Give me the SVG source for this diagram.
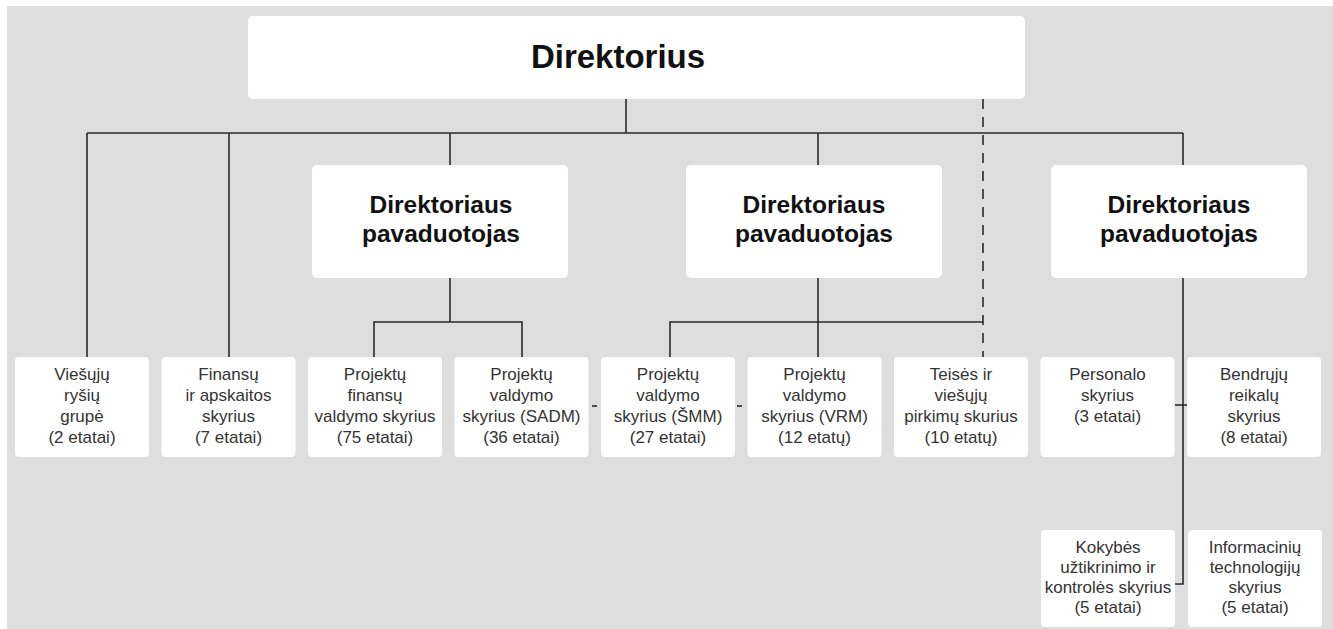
<svg xmlns="http://www.w3.org/2000/svg" width="1333" height="629" viewBox="0 0 1333 629">
<style>
.box{fill:#ffffff;}
.ln{stroke:#2a2a2a;stroke-width:1.6;fill:none;}
.dash{stroke:#2a2a2a;stroke-width:1.6;fill:none;stroke-dasharray:10 8;}
.big{font-family:"Liberation Sans",Arial,sans-serif;font-weight:bold;font-size:33px;fill:#111;text-anchor:middle;}
.mid{font-family:"Liberation Sans",Arial,sans-serif;font-weight:bold;font-size:24.5px;fill:#111;text-anchor:middle;}
.sm{font-family:"Liberation Sans",Arial,sans-serif;font-size:17px;fill:#333;text-anchor:middle;}
</style>
<rect x="0" y="0" width="1333" height="629" fill="#ffffff"/>
<rect x="7" y="6" width="1326" height="623" fill="#dfdedf"/>

<g id="connectors">
<line class="ln" x1="626" y1="99" x2="626" y2="133"/>
<line class="ln" x1="87" y1="133" x2="1183" y2="133"/>
<line class="ln" x1="87" y1="133" x2="87" y2="357"/>
<line class="ln" x1="229" y1="133" x2="229" y2="357"/>
<line class="ln" x1="450" y1="133" x2="450" y2="165"/>
<line class="ln" x1="818" y1="133" x2="818" y2="165"/>
<line class="ln" x1="1183" y1="133" x2="1183" y2="165"/>
<line class="dash" x1="983" y1="99" x2="983" y2="357"/>
<line class="ln" x1="450" y1="278" x2="450" y2="322"/>
<polyline class="ln" points="374,357 374,322 522,322 522,357"/>
<line class="ln" x1="818" y1="278" x2="818" y2="357"/>
<polyline class="ln" points="670,357 670,322 983,322"/>
<polyline class="ln" points="1183,278 1183,584 1175,584"/>
<line class="ln" x1="1175" y1="405" x2="1188" y2="405"/>
<line class="ln" x1="592" y1="406" x2="597" y2="406"/>
<line class="ln" x1="737" y1="406" x2="742" y2="406"/>
</g>

<g id="direktorius">
<rect class="box" x="248" y="16" width="777" height="83" rx="5"/>
<text class="big" x="618" y="68">Direktorius</text>
</g>

<g id="pav1">
<rect class="box" x="312" y="165" width="256" height="113" rx="5"/>
<text class="mid" x="441" y="213">Direktoriaus</text>
<text class="mid" x="441" y="242">pavaduotojas</text>
</g>
<g id="pav2">
<rect class="box" x="686" y="165" width="256" height="113" rx="5"/>
<text class="mid" x="814" y="213">Direktoriaus</text>
<text class="mid" x="814" y="242">pavaduotojas</text>
</g>
<g id="pav3">
<rect class="box" x="1051" y="165" width="256" height="113" rx="5"/>
<text class="mid" x="1179" y="213">Direktoriaus</text>
<text class="mid" x="1179" y="242">pavaduotojas</text>
</g>

<g id="n1">
<rect class="box" x="15" y="357" width="134" height="100" rx="4"/>
<text class="sm" x="82" y="380">Viešųjų</text>
<text class="sm" x="82" y="401">ryšių</text>
<text class="sm" x="82" y="422">grupė</text>
<text class="sm" x="82" y="443">(2 etatai)</text>
</g>
<g id="n2">
<rect class="box" x="161.5" y="357" width="134" height="100" rx="4"/>
<text class="sm" x="228.5" y="380">Finansų</text>
<text class="sm" x="228.5" y="401">ir apskaitos</text>
<text class="sm" x="228.5" y="422">skyrius</text>
<text class="sm" x="228.5" y="443">(7 etatai)</text>
</g>
<g id="n3">
<rect class="box" x="308" y="357" width="134" height="100" rx="4"/>
<text class="sm" x="375" y="380">Projektų</text>
<text class="sm" x="375" y="401">finansų</text>
<text class="sm" x="375" y="422">valdymo skyrius</text>
<text class="sm" x="375" y="443">(75 etatai)</text>
</g>
<g id="n4">
<rect class="box" x="454.5" y="357" width="134" height="100" rx="4"/>
<text class="sm" x="521.5" y="380">Projektų</text>
<text class="sm" x="521.5" y="401">valdymo</text>
<text class="sm" x="521.5" y="422">skyrius (SADM)</text>
<text class="sm" x="521.5" y="443">(36 etatai)</text>
</g>
<g id="n5">
<rect class="box" x="601" y="357" width="134" height="100" rx="4"/>
<text class="sm" x="668" y="380">Projektų</text>
<text class="sm" x="668" y="401">valdymo</text>
<text class="sm" x="668" y="422">skyrius (ŠMM)</text>
<text class="sm" x="668" y="443">(27 etatai)</text>
</g>
<g id="n6">
<rect class="box" x="747.5" y="357" width="134" height="100" rx="4"/>
<text class="sm" x="814.5" y="380">Projektų</text>
<text class="sm" x="814.5" y="401">valdymo</text>
<text class="sm" x="814.5" y="422">skyrius (VRM)</text>
<text class="sm" x="814.5" y="443">(12 etatų)</text>
</g>
<g id="n7">
<rect class="box" x="894" y="357" width="134" height="100" rx="4"/>
<text class="sm" x="961" y="380">Teisės ir</text>
<text class="sm" x="961" y="401">viešųjų</text>
<text class="sm" x="961" y="422">pirkimų skurius</text>
<text class="sm" x="961" y="443">(10 etatų)</text>
</g>
<g id="n8">
<rect class="box" x="1040.5" y="357" width="134" height="100" rx="4"/>
<text class="sm" x="1107.5" y="380">Personalo</text>
<text class="sm" x="1107.5" y="401">skyrius</text>
<text class="sm" x="1107.5" y="422">(3 etatai)</text>
</g>
<g id="n9">
<rect class="box" x="1187" y="357" width="134" height="100" rx="4"/>
<text class="sm" x="1254" y="380">Bendrųjų</text>
<text class="sm" x="1254" y="401">reikalų</text>
<text class="sm" x="1254" y="422">skyrius</text>
<text class="sm" x="1254" y="443">(8 etatai)</text>
</g>
<g id="n10">
<rect class="box" x="1041" y="530" width="134" height="97" rx="4"/>
<text class="sm" x="1108" y="553">Kokybės</text>
<text class="sm" x="1108" y="573">užtikrinimo ir</text>
<text class="sm" x="1108" y="593">kontrolės skyrius</text>
<text class="sm" x="1108" y="613">(5 etatai)</text>
</g>
<g id="n11">
<rect class="box" x="1188" y="530" width="134" height="97" rx="4"/>
<text class="sm" x="1255" y="553">Informacinių</text>
<text class="sm" x="1255" y="573">technologijų</text>
<text class="sm" x="1255" y="593">skyrius</text>
<text class="sm" x="1255" y="613">(5 etatai)</text>
</g>
</svg>
